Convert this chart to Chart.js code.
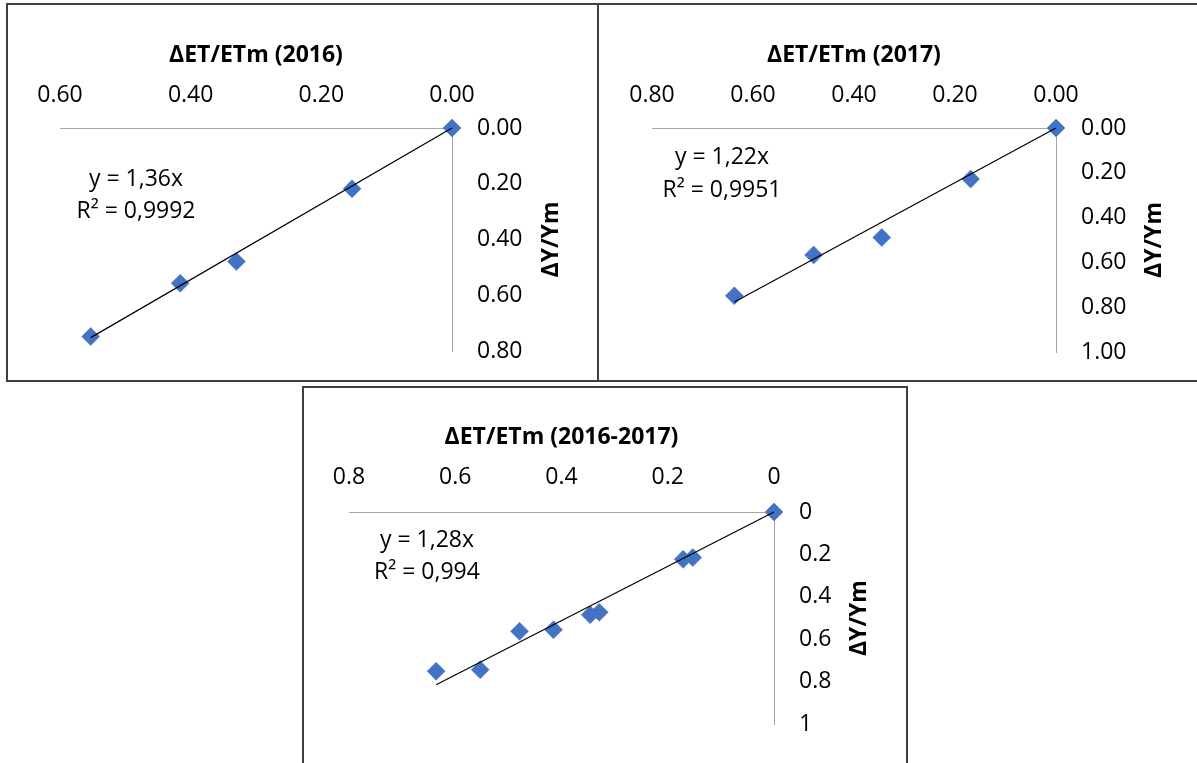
<!DOCTYPE html>
<html>
<head>
<meta charset="utf-8">
<script src="https://cdn.jsdelivr.net/npm/chart.js@4.4.1/dist/chart.umd.min.js"></script>
<style>
  html, body { margin: 0; padding: 0; background: #fff; }
  body { width: 1197px; height: 763px; position: relative; overflow: hidden; }
  .panel { position: absolute; box-sizing: border-box; border: 2px solid #404040; }
  canvas { position: absolute; left: 0; top: 0; pointer-events: none; }
</style>
</head>
<body>
<div class="panel" style="left:6px;top:3px;width:593px;height:379px;"></div>
<div class="panel" style="left:597px;top:3px;width:640px;height:379px;"></div>
<div class="panel" style="left:302px;top:386px;width:606px;height:420px;"></div>
<canvas id="c1" width="1197" height="763"></canvas>
<canvas id="c2" width="1197" height="763"></canvas>
<canvas id="c3" width="1197" height="763"></canvas>
<script>
// ---------- DATA ----------
// 2016
const x2016 = [0, 0.153, 0.330, 0.416, 0.553];
const y2016 = [0, 0.218, 0.479, 0.557, 0.748];
// 2017
const x2017 = [0, 0.169, 0.345, 0.480, 0.637];
const y2017 = [0, 0.228, 0.489, 0.567, 0.749];
// 2016-2017 (pooled)
const xAll = [0, 0.153, 0.171, 0.329, 0.346, 0.415, 0.479, 0.553, 0.636];
const yAll = [0, 0.215, 0.223, 0.472, 0.484, 0.555, 0.562, 0.743, 0.750];

// trendline slopes (through origin)
const slopes = [1.36, 1.22, 1.28];

// equation labels
const eq2016 = ['y = 1,36x', 'R\u00B2 = 0,9992'];
const eq2017 = ['y = 1,22x', 'R\u00B2 = 0,9951'];
const eqAll  = ['y = 1,28x', 'R\u00B2 = 0,994'];

// axis titles
const xTitles = ['\u0394ET/ETm (2016)', '\u0394ET/ETm (2017)', '\u0394ET/ETm (2016-2017)'];
const yTitle = '\u0394Y/Ym';

// tick values and labels
const xTickVals1 = [0, 0.2, 0.4, 0.6];
const xTickLabels1 = ['0.00', '0.20', '0.40', '0.60'];
const yTickVals1 = [0, 0.2, 0.4, 0.6, 0.8];
const yTickLabels1 = ['0.00', '0.20', '0.40', '0.60', '0.80'];

const xTickVals2 = [0, 0.2, 0.4, 0.6, 0.8];
const xTickLabels2 = ['0.00', '0.20', '0.40', '0.60', '0.80'];
const yTickVals2 = [0, 0.2, 0.4, 0.6, 0.8, 1.0];
const yTickLabels2 = ['0.00', '0.20', '0.40', '0.60', '0.80', '1.00'];

const xTickVals3 = [0, 0.2, 0.4, 0.6, 0.8];
const xTickLabels3 = ['0', '0.2', '0.4', '0.6', '0.8'];
const yTickVals3 = [0, 0.2, 0.4, 0.6, 0.8, 1.0];
const yTickLabels3 = ['0', '0.2', '0.4', '0.6', '0.8', '1'];

// ---------- STYLE / LAYOUT ----------
const FONT = '"Open Sans", "Noto Sans", sans-serif';
const FS = 23;
const MARKER = '#4472C4';
const AXIS = '#a6a6a6';

const annotPlugin = {
  id: 'annot',
  afterDraw(chart, args, opts) {
    const ctx = chart.ctx;
    const ca = chart.chartArea;
    ctx.save();
    ctx.fillStyle = '#000';
    ctx.font = FS + 'px ' + FONT;
    ctx.textAlign = 'center';
    ctx.textBaseline = 'alphabetic';
    opts.eq.forEach((t, i) => ctx.fillText(t, opts.eqX, opts.eqY[i]));
    ctx.font = 'bold ' + FS + 'px ' + FONT;
    ctx.translate(opts.yTitleX, (ca.top + ca.bottom) / 2);
    ctx.rotate(-Math.PI / 2);
    ctx.textAlign = 'center';
    ctx.textBaseline = 'middle';
    ctx.fillText(opts.yTitle, 0, 0);
    ctx.restore();
  }
};

function makeChart(id, xs, ys, slope, cfg) {
  const pts = xs.map((x, i) => ({x: x, y: ys[i]}));
  const xMaxData = Math.max(...xs);
  const trend = [{x: 0, y: 0}, {x: xMaxData, y: slope * xMaxData}];
  const W = 1197, H = 763;
  const XH = 120, YW = 130;
  return new Chart(document.getElementById(id), {
    type: 'scatter',
    data: {
      datasets: [
        { data: trend, showLine: true, borderColor: '#000', borderWidth: 1.2,
          pointRadius: 0, pointHoverRadius: 0, fill: false, clip: false },
        { data: pts, pointStyle: 'rectRot', pointRadius: 9, pointBorderWidth: 0.5,
          backgroundColor: MARKER, borderColor: MARKER, showLine: false, clip: false }
      ]
    },
    options: {
      responsive: false,
      devicePixelRatio: 1,
      animation: false,
      events: [],
      layout: { padding: { left: cfg.L, right: W - cfg.R - YW, top: cfg.T - XH, bottom: H - cfg.B } },
      plugins: {
        legend: { display: false }, tooltip: { enabled: false }, title: { display: false },
        annot: { eq: cfg.eq, eqX: cfg.eqX, eqY: cfg.eqY, yTitle: yTitle, yTitleX: cfg.yTitleX }
      },
      scales: {
        x: {
          type: 'linear', position: 'top', reverse: true, min: 0, max: cfg.xMax,
          afterBuildTicks: s => { s.ticks = cfg.xVals.map(v => ({value: v})); },
          afterFit: s => { s.height = XH; },
          ticks: { callback: (v, i) => cfg.xLabels[i], color: '#000', padding: cfg.xPad,
                   maxRotation: 0, minRotation: 0, autoSkip: false,
                   font: { family: FONT, size: FS } },
          grid: { display: false, drawTicks: false },
          border: { display: true, color: AXIS, width: 1 },
          title: { display: true, text: cfg.xTitle, color: '#000',
                   font: { family: FONT, size: FS, weight: 'bold' },
                   padding: { top: cfg.titlePad, bottom: 0 } }
        },
        y: {
          type: 'linear', position: 'right', reverse: true, min: 0, max: cfg.yMax,
          afterBuildTicks: s => { s.ticks = cfg.yVals.map(v => ({value: v})); },
          afterFit: s => { s.width = YW; },
          ticks: { callback: (v, i) => cfg.yLabels[i], color: '#000', padding: 25,
                   autoSkip: false, font: { family: FONT, size: FS } },
          grid: { display: false, drawTicks: false },
          border: { display: true, color: AXIS, width: 1 },
          title: { display: false }
        }
      }
    },
    plugins: [annotPlugin]
  });
}

makeChart('c1', x2016, y2016, slopes[0], {
  L: 60, R: 452, T: 128, B: 351, xMax: 0.6, yMax: 0.8,
  xVals: xTickVals1, xLabels: xTickLabels1, yVals: yTickVals1, yLabels: yTickLabels1,
  xTitle: xTitles[0], titlePad: 34, xPad: 19,
  eq: eq2016, eqX: 136, eqY: [186, 218], yTitleX: 551
});
makeChart('c2', x2017, y2017, slopes[1], {
  L: 652, R: 1056, T: 128, B: 352, xMax: 0.8, yMax: 1.0,
  xVals: xTickVals2, xLabels: xTickLabels2, yVals: yTickVals2, yLabels: yTickLabels2,
  xTitle: xTitles[1], titlePad: 34, xPad: 19,
  eq: eq2017, eqX: 722, eqY: [164, 197], yTitleX: 1154
});
makeChart('c3', xAll, yAll, slopes[2], {
  L: 349, R: 774, T: 512, B: 735, xMax: 0.8, yMax: 1.0,
  xVals: xTickVals3, xLabels: xTickLabels3, yVals: yTickVals3, yLabels: yTickLabels3,
  xTitle: xTitles[2], titlePad: 32, xPad: 21,
  eq: eqAll, eqX: 427, eqY: [547, 579], yTitleX: 859
});
</script>
</body>
</html>
